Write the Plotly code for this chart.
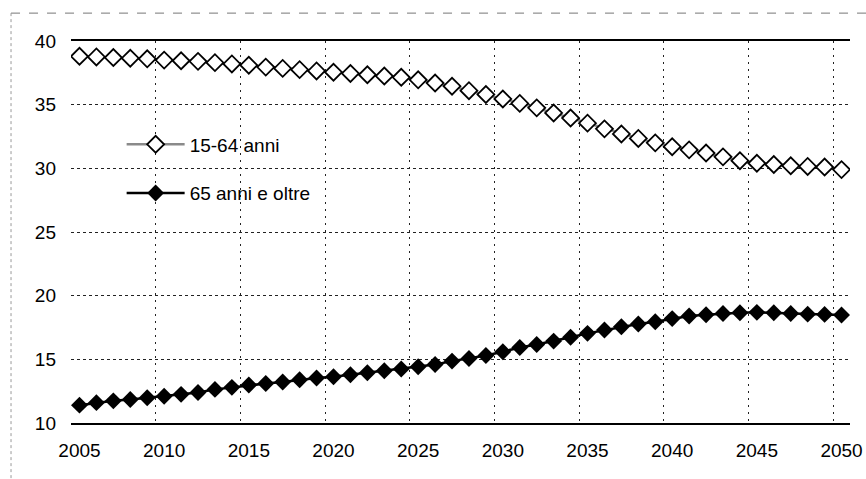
import plotly.graph_objects as go

years = list(range(2005, 2051))

pop_15_64 = [38.8, 38.75, 38.7, 38.65, 38.6, 38.5, 38.45, 38.4, 38.3, 38.2,
             38.1, 37.95, 37.85, 37.75, 37.65, 37.55, 37.45, 37.35, 37.25, 37.15,
             36.95, 36.7, 36.45, 36.1, 35.8, 35.45, 35.1, 34.75, 34.35, 33.95,
             33.55, 33.1, 32.7, 32.35, 32.0, 31.7, 31.45, 31.2, 30.9, 30.6,
             30.4, 30.3, 30.2, 30.15, 30.1, 29.9]

pop_65_plus = [11.4, 11.6, 11.74, 11.85, 11.98, 12.1, 12.25, 12.4, 12.64, 12.8,
               12.98, 13.1, 13.22, 13.4, 13.53, 13.63, 13.79, 13.95, 14.1, 14.24,
               14.42, 14.6, 14.86, 15.07, 15.3, 15.6, 15.93, 16.17, 16.43, 16.74,
               17.04, 17.3, 17.56, 17.77, 17.95, 18.2, 18.4, 18.5, 18.6, 18.66,
               18.69, 18.66, 18.6, 18.55, 18.53, 18.48]

label_years = list(range(2005, 2051, 5))
grid_years = [y - 0.5 for y in range(2005, 2051, 5)] + [2050.5]
y_ticks = [10, 15, 20, 25, 30, 35, 40]

name_a = "15-64 anni"
name_b = "65 anni e oltre"

FONT = "Arial, Liberation Sans, sans-serif"

fig = go.Figure()
fig.add_trace(go.Scatter(
    x=years, y=pop_15_64, name=name_a, mode="lines+markers",
    line=dict(color="#8a8a8a", width=2.5),
    marker=dict(symbol="diamond", size=13, color="white",
                line=dict(color="black", width=1.8)),
    legendgroup="a",
))
fig.add_trace(go.Scatter(
    x=years, y=pop_65_plus, name=name_b, mode="lines+markers",
    line=dict(color="black", width=2.5),
    marker=dict(symbol="diamond", size=13, color="black",
                line=dict(color="black", width=0)),
    legendgroup="b",
))

fig.update_layout(
    width=866, height=479,
    margin=dict(l=71, r=16, t=41, b=56),
    paper_bgcolor="white", plot_bgcolor="white",
    font=dict(family=FONT, size=19, color="black"),
    showlegend=True,
    legend=dict(x=0.065, y=0.779, xanchor="left", yanchor="top",
                bgcolor="rgba(0,0,0,0)", borderwidth=0,
                font=dict(size=19), itemwidth=58,
                traceorder="grouped", tracegroupgap=21),
    xaxis=dict(range=[2004.5, 2050.5], tickmode="array",
               tickvals=label_years, ticktext=[str(v) for v in label_years],
               showgrid=False, zeroline=False, ticks="", automargin=False,
               showline=True, mirror=True, linecolor="black", linewidth=1.5,
               ticklabelstandoff=9,
               minor=dict(tickmode="array", tickvals=grid_years,
                          showgrid=True, gridcolor="#222222", gridwidth=1,
                          griddash="2px,5px", ticks="")),
    yaxis=dict(range=[10, 40], tickmode="array", tickvals=y_ticks,
               showgrid=True, gridcolor="#222222", gridwidth=1,
               griddash="3px,3px", zeroline=False, ticks="", automargin=False,
               showline=False, ticklabelstandoff=14),
    shapes=[
        dict(type="line", xref="paper", yref="paper", x0=-0.077, x1=1.03,
             y0=1.073, y1=1.073, line=dict(color="#777777", width=1, dash="dash")),
        dict(type="line", xref="paper", yref="paper", x0=-0.077, x1=-0.077,
             y0=1.073, y1=-0.147, line=dict(color="#999999", width=1, dash="dot")),
    ],
)

fig.write_html("out.html",
               config={"displayModeBar": False},
               post_script="document.body.style.margin='0px';document.body.style.overflow='hidden';")
